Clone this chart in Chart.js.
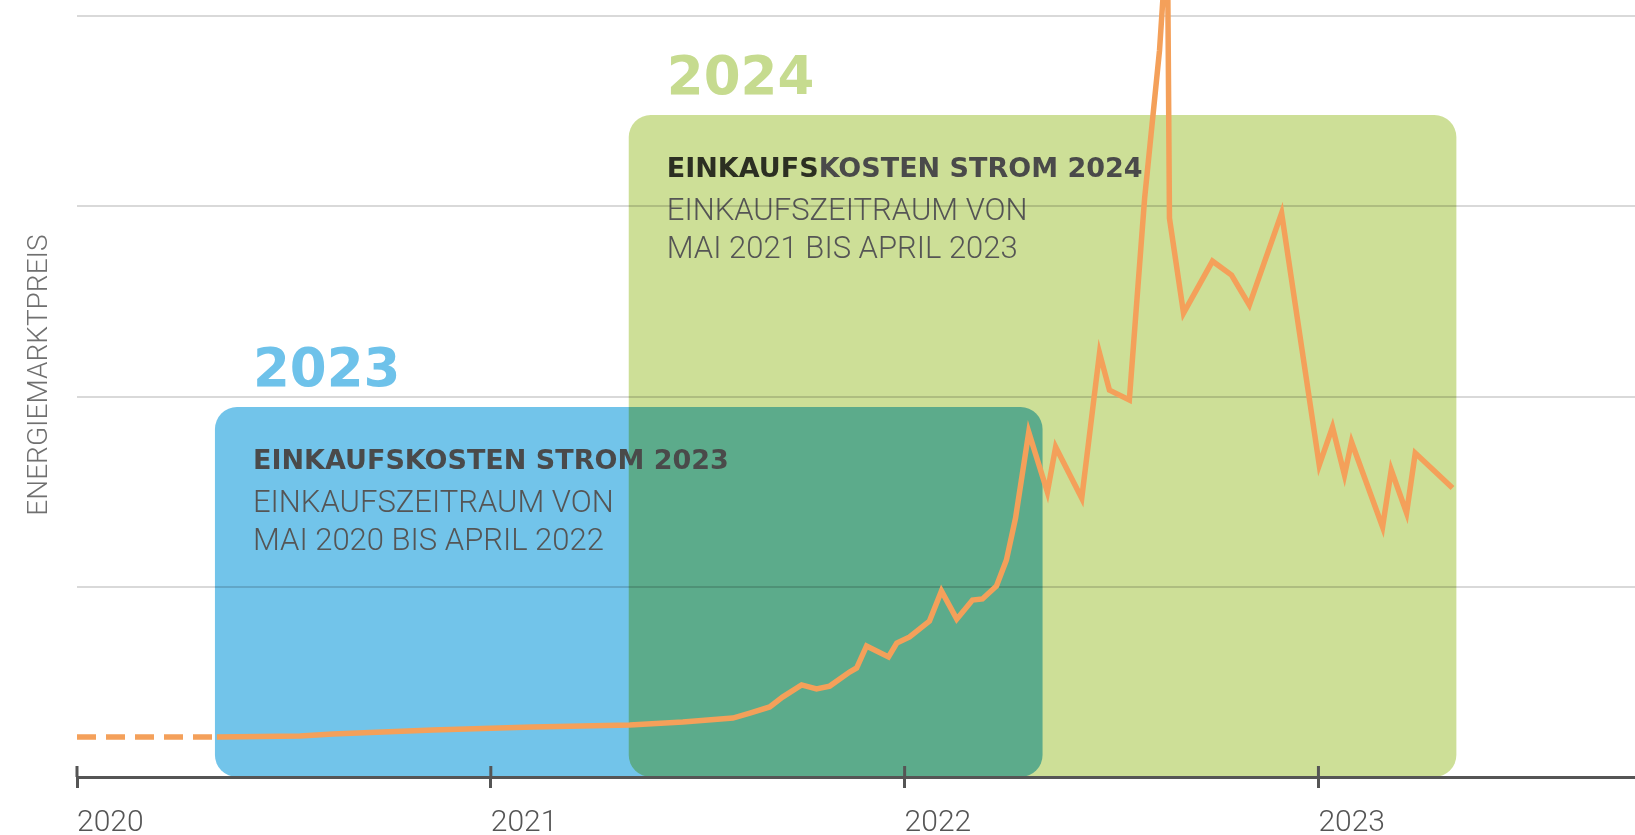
<!DOCTYPE html>
<html lang="de">
<head>
<meta charset="utf-8">
<title>Energiemarktpreis</title>
<script src="https://cdn.jsdelivr.net/npm/chart.js@4.4.1/dist/chart.umd.min.js"></script>
<style>
  html, body { margin: 0; padding: 0; background: #fff; }
  #wrap { width: 1635px; height: 835px; }
</style>
</head>
<body>
<div id="wrap"><canvas id="price-chart" width="1635" height="835"></canvas></div>
<script>
// Zeitpunkte als Dezimaljahr, Preis in Rastereinheiten (1 = eine Hilfslinie)
const dates = [
  2020.000, 2020.338, 2020.539, 2020.618, 2020.860, 2021.101, 2021.336, 2021.464,
  2021.585, 2021.626, 2021.674, 2021.705, 2021.751, 2021.787, 2021.819, 2021.867,
  2021.884, 2021.908, 2021.961, 2021.981, 2022.012, 2022.060, 2022.089, 2022.126,
  2022.164, 2022.188, 2022.222, 2022.246, 2022.268, 2022.300, 2022.345, 2022.365,
  2022.428, 2022.471, 2022.495, 2022.543, 2022.580, 2022.616, 2022.635, 2022.640,
  2022.674, 2022.744, 2022.790, 2022.833, 2022.911, 2023.002, 2023.034, 2023.063,
  2023.080, 2023.155, 2023.176, 2023.213, 2023.234, 2023.324
]
const prices = [
  0.210, 0.210, 0.216, 0.226, 0.247, 0.263, 0.273, 0.289,
  0.310, 0.336, 0.368, 0.420, 0.484, 0.463, 0.478, 0.552,
  0.573, 0.689, 0.631, 0.704, 0.736, 0.820, 0.978, 0.830,
  0.930, 0.936, 1.004, 1.141, 1.361, 1.813, 1.498, 1.735,
  1.466, 2.229, 2.034, 1.982, 3.043, 3.821, 4.450, 2.938,
  2.439, 2.712, 2.639, 2.481, 2.965, 1.640, 1.840, 1.587,
  1.761, 1.314, 1.614, 1.388, 1.703, 1.519
]
const yearLabels = ['2020', '2021', '2022', '2023']
const axisTitle = 'ENERGIEMARKTPREIS'

// Einkaufszeiträume
const periodYears = ['2023', '2024']
const periodStart = [2020 + 4 / 12, 2021 + 4 / 12]
const periodEnd = [2022 + 4 / 12, 2023 + 4 / 12]
const periodTop = [1.945, 3.48]
const periodTitles = ['EINKAUFSKOSTEN STROM 2023', 'EINKAUFSKOSTEN STROM 2024']
const periodLine1 = ['EINKAUFSZEITRAUM VON', 'EINKAUFSZEITRAUM VON']
const periodLine2 = ['MAI 2020 BIS APRIL 2022', 'MAI 2021 BIS APRIL 2023']

const boxColors = ['#72C4EA', '#CDDF97']
const yearColors = ['#6EC2EA', '#C6DB8F']
const boldFont = 'bold 27px "DejaVu Sans"'
const lightFont = '300 31px Roboto'

const periodBoxes = {
  id: 'periodBoxes',
  beforeDraw(chart) {
    const { ctx, scales: { x, y } } = chart
    const bottom = y.getPixelForValue(0)
    const order = [1, 0]
    ctx.save()
    order.forEach((i, n) => {
      const left = x.getPixelForValue(periodStart[i])
      const right = x.getPixelForValue(periodEnd[i])
      const top = y.getPixelForValue(periodTop[i])
      ctx.globalCompositeOperation = n === 0 ? 'source-over' : 'multiply'
      ctx.fillStyle = boxColors[i]
      ctx.beginPath()
      ctx.roundRect(left, top, right - left, bottom - top, 22)
      ctx.fill()
    })
    ctx.globalCompositeOperation = 'source-over'
    ctx.textAlign = 'left'
    ctx.textBaseline = 'alphabetic'
    order.forEach(i => {
      const left = x.getPixelForValue(periodStart[i]) + 38
      const top = y.getPixelForValue(periodTop[i])
      ctx.font = 'bold 53px "DejaVu Sans"'
      ctx.fillStyle = yearColors[i]
      ctx.fillText(periodYears[i], left, top - 21)

      ctx.font = boldFont
      ctx.fillStyle = '#4A4A4A'
      if (i === 1) {
        // "EINKAUFS" ist im grünen Kasten dunkler gesetzt
        const head = periodTitles[i].slice(0, 8)
        ctx.fillStyle = '#2C2F22'
        ctx.fillText(head, left, top + 62)
        ctx.fillStyle = '#4A4A4A'
        ctx.fillText(periodTitles[i].slice(8), left + ctx.measureText(head).width, top + 62)
      } else {
        ctx.fillText(periodTitles[i], left, top + 62)
      }

      ctx.font = lightFont
      ctx.fillStyle = '#555555'
      ctx.fillText(periodLine1[i], left, top + 105)
      ctx.fillText(periodLine2[i], left, top + 143)
    })
    ctx.restore()
  }
}

const axisMarks = {
  id: 'axisMarks',
  afterDraw(chart) {
    const { ctx, scales: { x } } = chart
    ctx.save()
    ctx.strokeStyle = '#555555'
    ctx.lineWidth = 3
    x.ticks.forEach(t => {
      const px = x.getPixelForValue(t.value)
      ctx.beginPath()
      ctx.moveTo(px, x.top - 11)
      ctx.lineTo(px, x.top)
      ctx.stroke()
    })
    ctx.translate(37, 375)
    ctx.rotate(-Math.PI / 2)
    ctx.font = '300 28px Roboto'
    ctx.fillStyle = '#707070'
    ctx.textAlign = 'center'
    ctx.textBaseline = 'alphabetic'
    ctx.fillText(axisTitle, 0, 10)
    ctx.restore()
  }
}

const priceData = {
  datasets: [{
    label: 'Energiemarktpreis',
    data: dates.map((d, i) => ({ x: d, y: prices[i] })),
    borderColor: '#F4A05A',
    borderWidth: 5.5,
    pointRadius: 0,
    tension: 0,
    fill: false,
    segment: {
      borderDash: ctx => ctx.p0DataIndex === 0 ? [19, 10] : undefined
    }
  }]
}

const priceConfig = {
  type: 'line',
  data: priceData,
  options: {
    responsive: false,
    animation: false,
    layout: { padding: 0 },
    plugins: {
      legend: { display: false },
      tooltip: { enabled: false }
    },
    scales: {
      x: {
        type: 'linear',
        min: 2020,
        max: 2023.765,
        afterFit: scale => { scale.height = 58 },
        grid: {
          drawOnChartArea: false,
          drawTicks: true,
          tickLength: 11,
          tickWidth: 3,
          tickColor: '#555555'
        },
        border: { display: true, color: '#555555', width: 3 },
        ticks: {
          stepSize: 1,
          includeBounds: false,
          autoSkip: false,
          maxRotation: 0,
          align: 'start',
          padding: 17,
          color: '#555555',
          font: { family: 'Roboto', weight: 300, size: 30 },
          callback: (value, index) => yearLabels[index]
        }
      },
      y: {
        min: 0,
        max: 4.085,
        afterFit: scale => { scale.width = 77 },
        grid: {
          color: 'rgba(0,0,0,0.15)',
          lineWidth: 2,
          drawTicks: false
        },
        border: { display: false },
        ticks: { display: false, stepSize: 1, includeBounds: false }
      }
    }
  },
  plugins: [periodBoxes, axisMarks]
}

const priceChart = new Chart(document.getElementById('price-chart').getContext('2d'), priceConfig)
</script>
</body>
</html>
